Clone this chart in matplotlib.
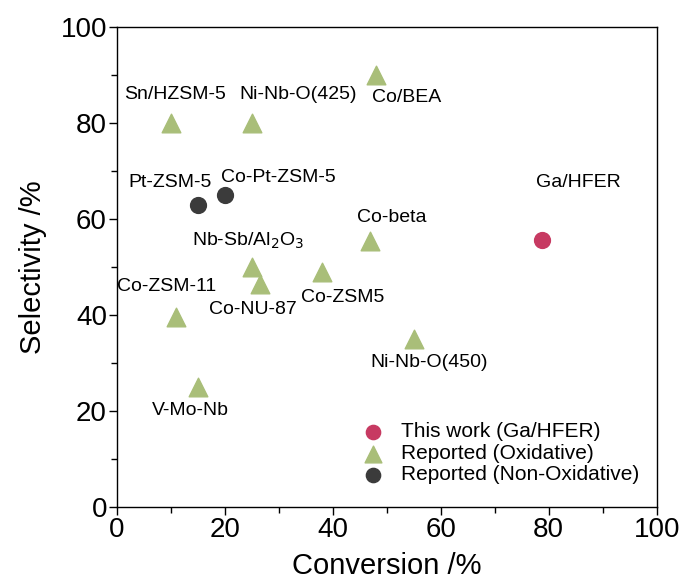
import matplotlib as mpl

mpl.use('Agg')
import matplotlib.pyplot as plt
from matplotlib.ticker import MultipleLocator

plt.rcParams['font.family'] = ['Liberation Sans', 'DejaVu Sans']

# this work
ga_x = [78.7]
ga_y = [55.6]

# reported oxidative routes
ox_names = ['Sn/HZSM-5', 'Ni-Nb-O(425)', 'Co/BEA', r'Nb-Sb/Al$_2$O$_3$', 'Co-NU-87',
            'Co-ZSM-11', 'V-Mo-Nb', 'Co-beta', 'Co-ZSM5', 'Ni-Nb-O(450)']
ox_x = [10, 25, 48, 25, 26.5, 11, 15, 47, 38, 55]
ox_y = [80, 80, 90, 50, 46.5, 39.5, 25, 55.5, 49, 35]

# reported non-oxidative routes
nox_names = ['Pt-ZSM-5', 'Co-Pt-ZSM-5']
nox_x = [15, 20]
nox_y = [63, 65]

# label anchor points (data coords)
ox_lx = [10.8, 33.6, 53.6, 24.4, 25.3, 9.3, 13.6, 50.9, 41.9, 57.8]
ox_ly = [86, 86, 85.3, 55.4, 41.2, 46.0, 20.2, 60.4, 43.7, 30.2]
nox_lx = [9.9, 29.9]
nox_ly = [67.6, 68.7]
ga_lx = [85.5]
ga_ly = [67.6]

fig = plt.figure(figsize=(6.84, 5.82), dpi=100)
ax = fig.add_axes([0.1706, 0.1289, 0.7895, 0.8247])

ax.scatter(ga_x, ga_y, s=130, marker='o', color='#c73a62', label='This work (Ga/HFER)', zorder=3)
ax.scatter(ox_x, ox_y, s=180, marker='^', color='#a9be79', label='Reported (Oxidative)', zorder=3)
ax.scatter(nox_x, nox_y, s=130, marker='o', color='#3b3b3b', label='Reported (Non-Oxidative)', zorder=3)

for n, x, y in zip(ox_names, ox_lx, ox_ly):
    ax.text(x, y, n, ha='center', va='center', fontsize=14)
for n, x, y in zip(nox_names, nox_lx, nox_ly):
    ax.text(x, y, n, ha='center', va='center', fontsize=14)
ax.text(ga_lx[0], ga_ly[0], 'Ga/HFER', ha='center', va='center', fontsize=14)

ax.set_xlim(0, 100)
ax.set_ylim(0, 100)
ax.xaxis.set_major_locator(MultipleLocator(20))
ax.xaxis.set_minor_locator(MultipleLocator(10))
ax.yaxis.set_major_locator(MultipleLocator(20))
ax.yaxis.set_minor_locator(MultipleLocator(10))
ax.tick_params(which='major', direction='out', length=6, width=1, labelsize=20, pad=1)
ax.tick_params(which='minor', direction='out', length=4, width=1)
for sp in ax.spines.values():
    sp.set_linewidth(1)

ax.set_xlabel('Conversion /%', fontsize=21, labelpad=7)
ax.set_ylabel('Selectivity /%', fontsize=21, labelpad=10)

ax.legend(loc='lower right', bbox_to_anchor=(1.0, 0.01), frameon=False, fontsize=15,
          handletextpad=0.35, labelspacing=0.12, borderaxespad=0.45, markerscale=0.9)

plt.savefig('out.png')
